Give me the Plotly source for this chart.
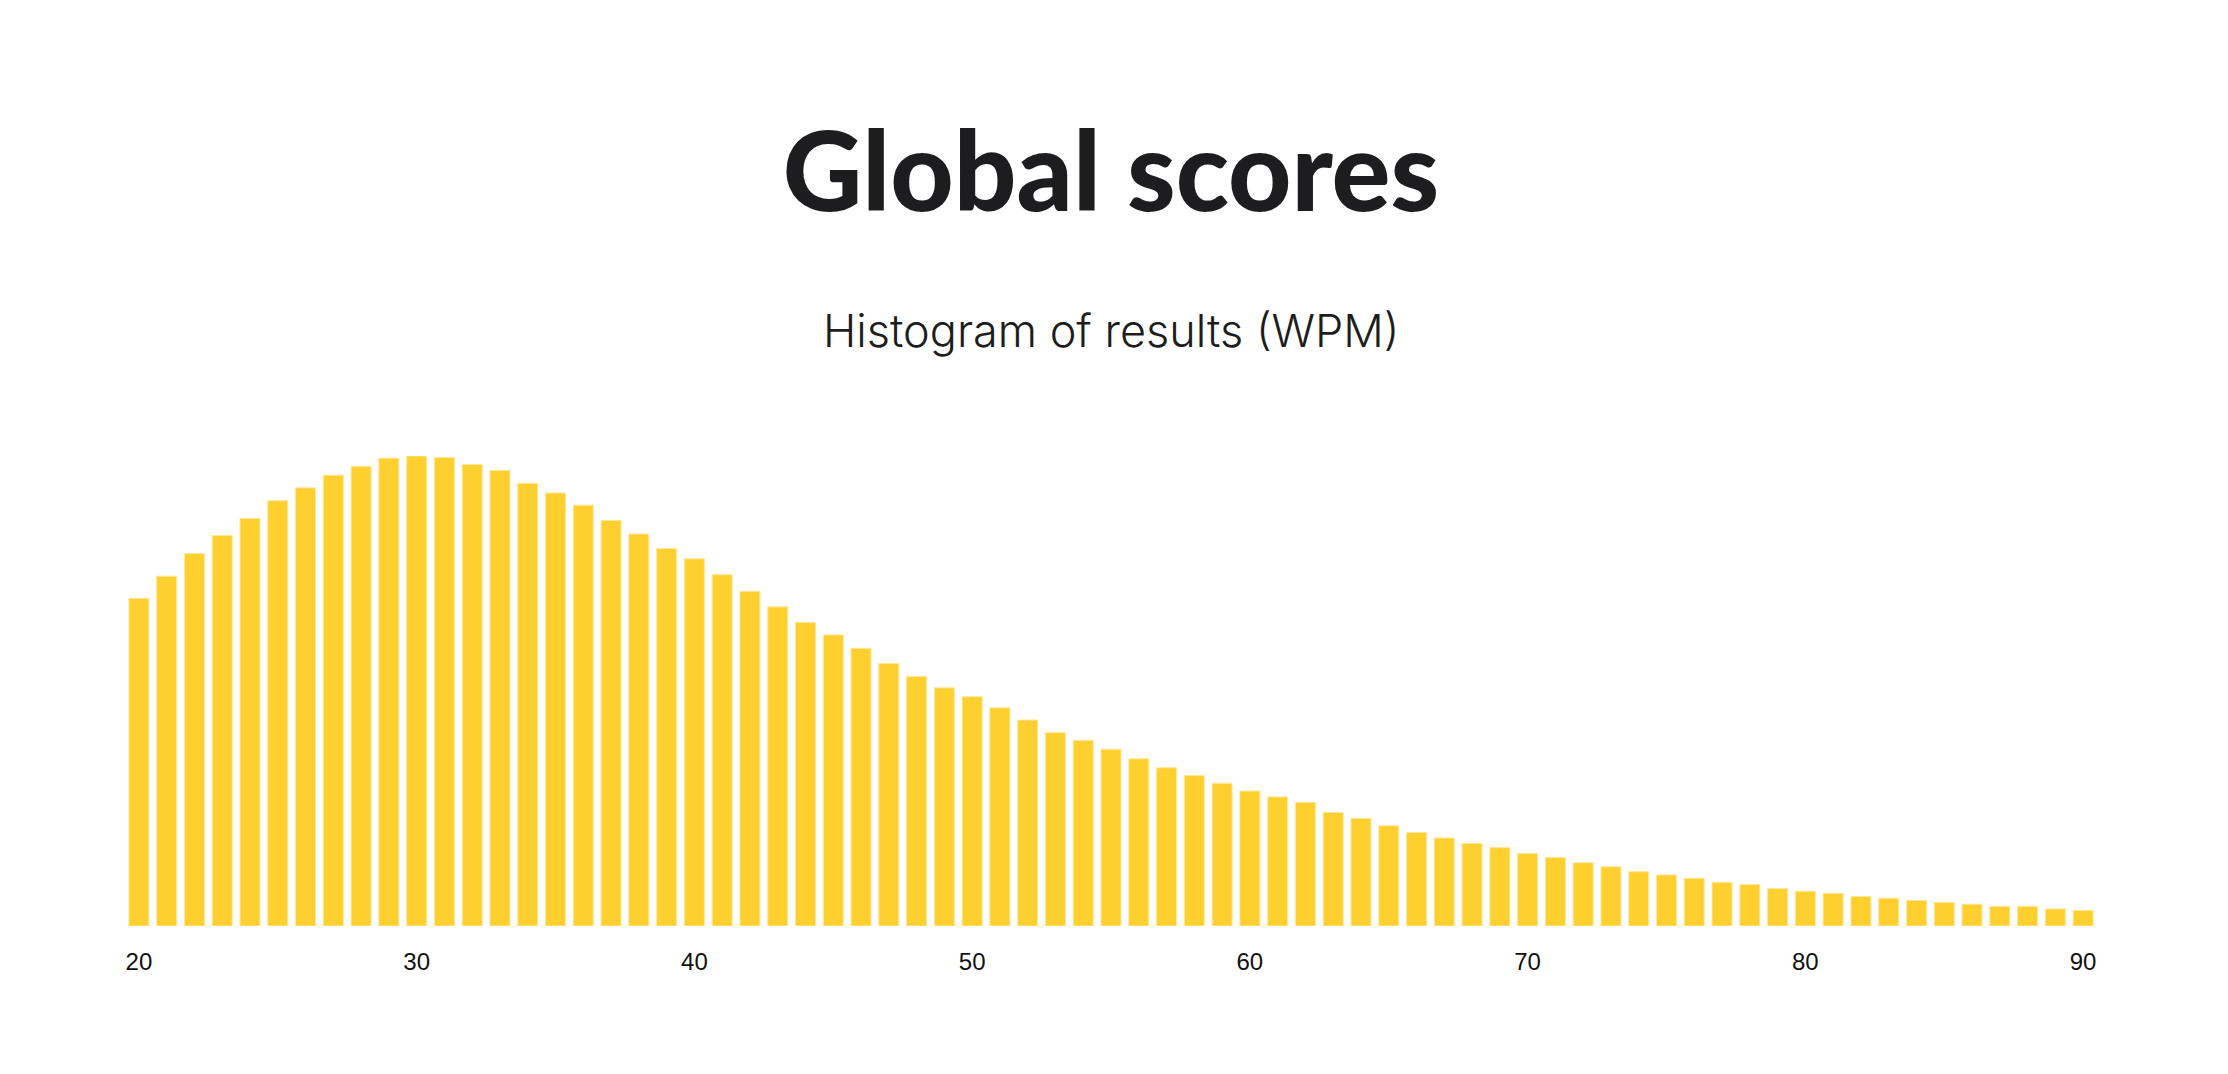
import plotly.graph_objects as go

# WPM bins (x categories)
wpm = [20, 21, 22, 23, 24, 25, 26, 27, 28, 29,
       30, 31, 32, 33, 34, 35, 36, 37, 38, 39,
       40, 41, 42, 43, 44, 45, 46, 47, 48, 49,
       50, 51, 52, 53, 54, 55, 56, 57, 58, 59,
       60, 61, 62, 63, 64, 65, 66, 67, 68, 69,
       70, 71, 72, 73, 74, 75, 76, 77, 78, 79,
       80, 81, 82, 83, 84, 85, 86, 87, 88, 89,
       90]

# number of results per bin (relative counts)
results = [886, 946, 1007, 1056, 1102, 1150, 1185, 1219, 1243, 1265,
           1271, 1267, 1248, 1232, 1197, 1171, 1138, 1097, 1060, 1021,
           993, 950, 905, 863, 821, 787, 751, 710, 675, 644,
           620, 590, 557, 523, 502, 478, 452, 428, 407, 386,
           365, 349, 334, 307, 291, 271, 253, 238, 223, 212,
           196, 185, 171, 160, 147, 138, 129, 118, 112, 101,
           94, 88, 80, 75, 69, 64, 59, 53, 53, 46,
           42]

tick_vals = [20, 30, 40, 50, 60, 70, 80, 90]
tick_text = ["20", "30", "40", "50", "60", "70", "80", "90"]

title_text = "Global scores"
subtitle_text = "Histogram of results (WPM)"

W, H = 2228, 1074
plot_top, plot_bottom = 456, 926.5
plot_h = plot_bottom - plot_top

fig = go.Figure(
    go.Bar(
        x=wpm,
        y=results,
        marker=dict(color="#FDD02F", line=dict(color="#FFE79A", width=1)),
        hoverinfo="x+y",
    )
)

fig.update_layout(
    width=W,
    height=H,
    paper_bgcolor="white",
    plot_bgcolor="white",
    margin=dict(l=125, r=131, t=plot_top, b=H - plot_bottom),
    bargap=0.28,
    showlegend=False,
    title=dict(
        text=title_text,
        x=0.5,
        xanchor="center",
        xref="paper",
        y=1 - 172 / H,
        yref="container",
        yanchor="middle",
        font=dict(family="Lato", size=110, weight=900, color="#1D1D20"),
    ),
    annotations=[
        dict(
            text=subtitle_text,
            x=0.5,
            xref="paper",
            xanchor="center",
            y=(plot_bottom - 330) / plot_h,
            yref="paper",
            yanchor="middle",
            showarrow=False,
            font=dict(family="Inter", size=45, weight=300, color="#1D1D20"),
        )
    ],
    xaxis=dict(
        range=[19.5, 90.5],
        tickmode="array",
        tickvals=tick_vals,
        ticktext=tick_text,
        ticks="outside",
        ticklen=14,
        tickcolor="rgba(0,0,0,0)",
        showgrid=False,
        zeroline=False,
        showline=False,
        tickfont=dict(family="Liberation Sans", size=24, color="#111111"),
    ),
    yaxis=dict(
        range=[0, 1271],
        visible=False,
        showgrid=False,
        zeroline=False,
    ),
)

fig.write_html("out.html")
